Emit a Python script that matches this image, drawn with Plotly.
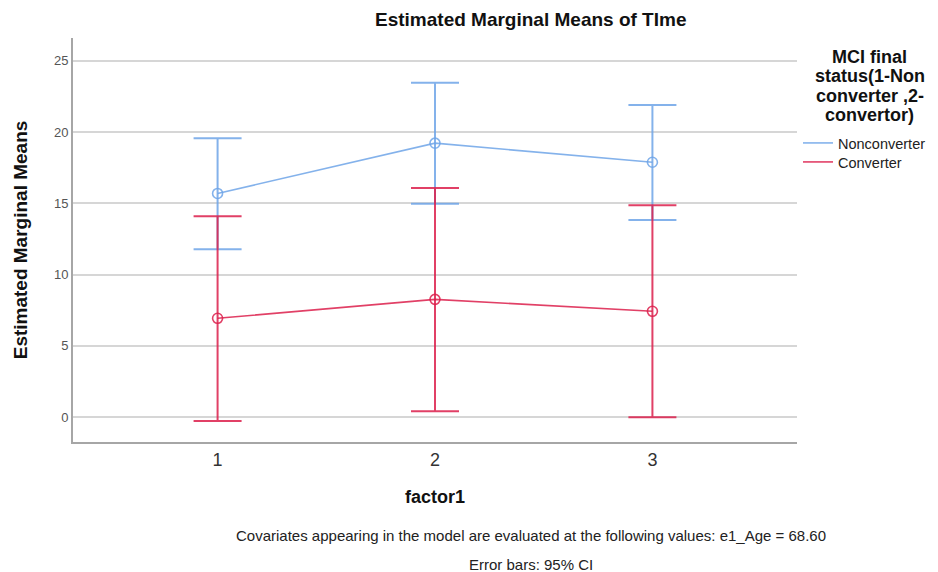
import plotly.graph_objects as go

categories = [1, 2, 3]
tick_labels = ["1", "2", "3"]
nonconv_mean = [15.69, 19.22, 17.88]
nonconv_upper = [19.57, 23.46, 21.90]
nonconv_lower = [11.78, 14.97, 13.83]
conv_mean = [6.93, 8.26, 7.42]
conv_upper = [14.10, 16.08, 14.87]
conv_lower = [-0.28, 0.40, -0.02]

BLUE = "rgba(110,165,232,0.85)"
RED = "rgba(220,30,75,0.85)"
FONT = "Liberation Sans, Arial, sans-serif"

# plot area in page pixels (reference)
PL, PR, PT, PB = 70, 797, 38, 442
PW, PH = PR - PL, PB - PT
OFF = 8  # browser body margin


def px(x):
    return (x - PL) / PW


def py(y):
    return (PB - y) / PH


fig = go.Figure()


def add_series(mean, upper, lower, color, name, legend):
    fig.add_trace(go.Scatter(
        x=categories, y=mean, mode="lines+markers", name=name, showlegend=False,
        line=dict(color=color, width=1.6),
        marker=dict(symbol="circle-open", size=10, color=color, line=dict(width=1.6)),
        error_y=dict(type="data", symmetric=False,
                     array=[u - m for u, m in zip(upper, mean)],
                     arrayminus=[m - l for m, l in zip(mean, lower)],
                     color=color, thickness=2, width=24),
    ))
    fig.add_trace(go.Scatter(x=[None], y=[None], mode="lines", name=name, legend=legend,
                             line=dict(color=color, width=1.6)))


add_series(nonconv_mean, nonconv_upper, nonconv_lower, BLUE, "Nonconverter", "legend")
add_series(conv_mean, conv_upper, conv_lower, RED, "Converter", "legend2")

leg_common = dict(xanchor="left", yanchor="middle", xref="paper", yref="paper",
                  itemwidth=30, font=dict(size=14.5, color="#222"),
                  bgcolor="rgba(0,0,0,0)", borderwidth=0)

fig.update_layout(
    width=938, height=572,
    margin=dict(l=PL - OFF, r=938 - (PR - OFF), t=PT - OFF, b=572 - (PB - OFF)),
    paper_bgcolor="white", plot_bgcolor="white",
    font=dict(family=FONT, color="#222"),
    xaxis=dict(range=[0.335, 3.665], tickvals=categories, ticktext=tick_labels,
               showgrid=False, zeroline=False, showline=True, linecolor="#a6a6a6",
               linewidth=2, ticks="", tickfont=dict(size=18, color="#333"),
               title=dict(text="<b>factor1</b>", font=dict(size=18, color="#111"), standoff=22)),
    yaxis=dict(range=[-1.75, 26.6], tickvals=[0, 5, 10, 15, 20, 25],
               showgrid=True, gridcolor="#d6d6d6", gridwidth=2, zeroline=False,
               showline=True, linecolor="#a6a6a6", linewidth=2, ticks="",
               tickfont=dict(size=13, color="#555"),
               title=dict(text="<b>Estimated Marginal Means</b>", font=dict(size=19, color="#111"), standoff=21)),
    legend=dict(x=px(798), y=py(143), **leg_common),
    legend2=dict(x=px(798), y=py(162), **leg_common),
    showlegend=True,
)

fig.add_annotation(text="<b>Estimated Marginal Means of TIme</b>", xref="paper", yref="paper",
                   x=px(529), y=py(20), yanchor="middle", xanchor="center",
                   showarrow=False, font=dict(size=19, color="#111"))

legend_title_lines = ["MCI final", "status(1-Non", "converter ,2-", "convertor)"]
legend_title_y = [56.5, 76, 95.5, 115]
for line, yy in zip(legend_title_lines, legend_title_y):
    fig.add_annotation(text="<b>" + line + "</b>", xref="paper", yref="paper",
                       x=px(870), y=py(yy), xanchor="center", yanchor="middle",
                       showarrow=False, font=dict(size=18, color="#111"))

fig.add_annotation(text="Covariates appearing in the model are evaluated at the following values: e1_Age = 68.60",
                   xref="paper", yref="paper", x=px(530), y=py(535),
                   xanchor="center", yanchor="middle", showarrow=False,
                   font=dict(size=15, color="#222"))
fig.add_annotation(text="Error bars: 95% CI",
                   xref="paper", yref="paper", x=px(530), y=py(564),
                   xanchor="center", yanchor="middle", showarrow=False,
                   font=dict(size=15, color="#222"))

fig.write_html("out.html")
